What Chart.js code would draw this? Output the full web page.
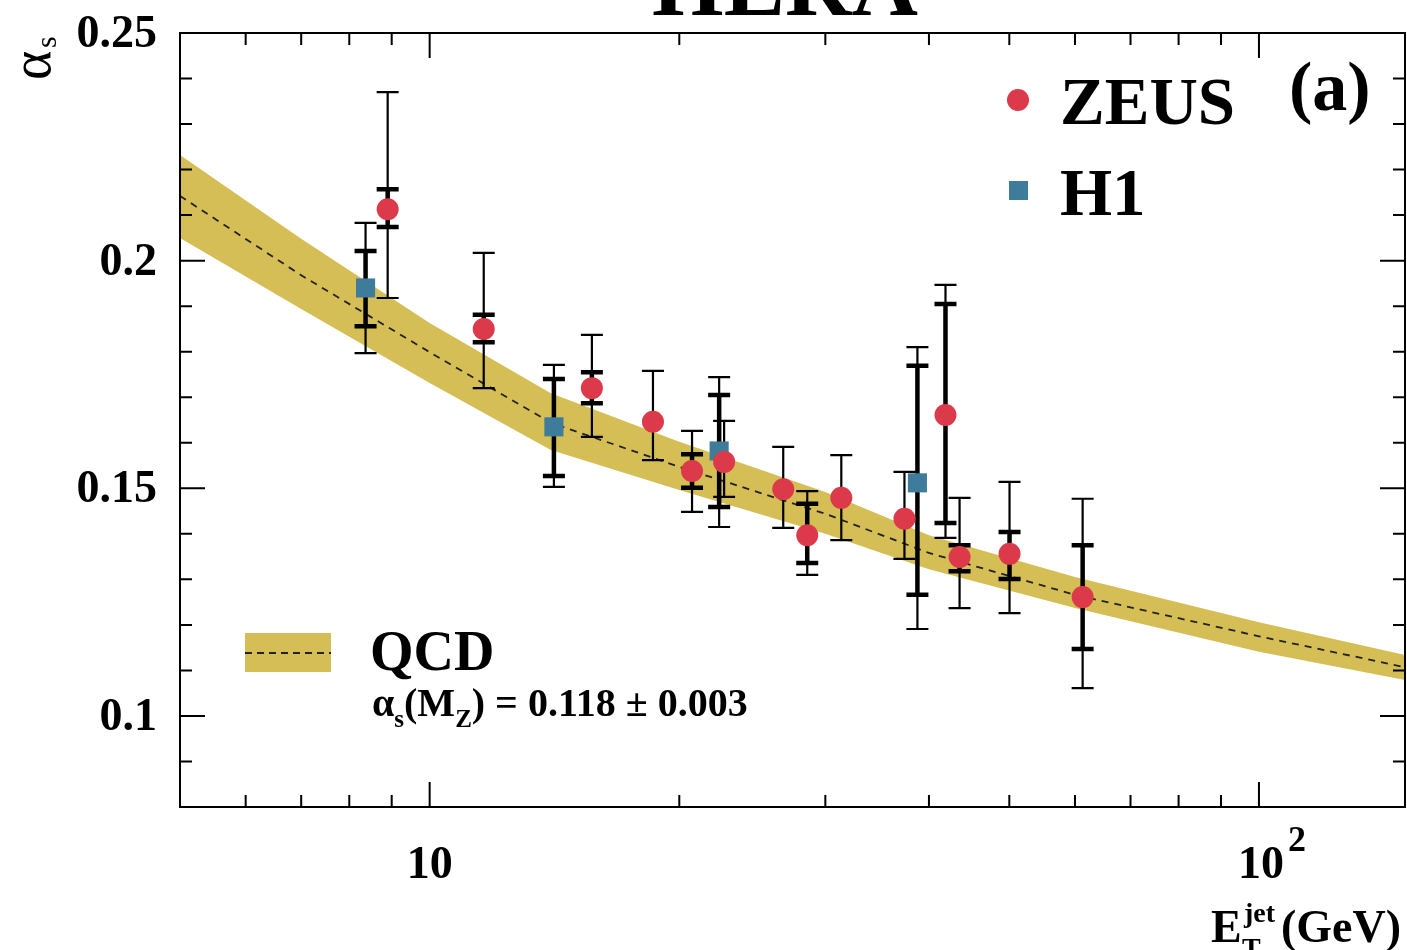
<!DOCTYPE html>
<html>
<head>
<meta charset="utf-8">
<script src="https://cdn.jsdelivr.net/npm/chart.js@4.4.0/dist/chart.umd.min.js"></script>
<style>
  html, body { margin: 0; padding: 0; background: #fff; overflow: hidden; }
  canvas { display: block; }
</style>
</head>
<body>
<canvas id="alphaChart" width="1407" height="950"></canvas>
<script>
const qcdEt      = [5, 7, 10, 14, 20, 30, 40, 60, 100, 150];
const qcdCentral = [0.2142, 0.1968, 0.1799, 0.1644, 0.1547, 0.1444, 0.1358, 0.1266, 0.1175, 0.1107];
const qcdUpper   = [0.2232, 0.2048, 0.1863, 0.1709, 0.1602, 0.1492, 0.1397, 0.1305, 0.1206, 0.1134];
const qcdLower   = [0.2050, 0.1894, 0.1731, 0.1584, 0.1496, 0.1400, 0.1322, 0.1237, 0.1141, 0.1079];

const zeusEt     = [8.90, 11.62, 15.69, 18.59, 20.72, 22.65, 26.69, 28.53, 31.36, 37.37, 41.88, 43.55, 50.03, 61.29];
const zeusAlpha  = [0.2113, 0.1850, 0.1720, 0.1646, 0.1538, 0.1558, 0.1498, 0.1397, 0.1479, 0.1433, 0.1661, 0.1349, 0.1356, 0.1261];
const zeusStatHi = [0.2157, 0.1881, 0.1755, null, 0.1575, null, null, 0.1466, null, null, 0.1905, 0.1375, 0.1404, 0.1375];
const zeusStatLo = [0.2074, 0.1821, 0.1687, null, 0.1501, null, null, 0.1336, null, null, 0.1424, 0.1318, 0.1301, 0.1147];
const zeusTotHi  = [0.2370, 0.2017, 0.1837, 0.1758, 0.1626, 0.1648, 0.1591, 0.1494, 0.1573, 0.1536, 0.1947, 0.1479, 0.1514, 0.1477];
const zeusTotLo  = [0.1918, 0.1720, 0.1613, 0.1562, 0.1448, 0.1481, 0.1413, 0.1310, 0.1386, 0.1345, 0.1391, 0.1237, 0.1226, 0.1061];

const h1Et     = [8.37, 14.12, 22.34, 38.74];
const h1Alpha  = [0.1940, 0.1635, 0.1582, 0.1512];
const h1StatHi = [0.2021, 0.1740, 0.1705, 0.1769];
const h1StatLo = [0.1856, 0.1527, 0.1459, 0.1266];
const h1TotHi  = [0.2083, 0.1771, 0.1744, 0.1810];
const h1TotLo  = [0.1797, 0.1503, 0.1415, 0.1191];

const yTicks = [0.1, 0.15, 0.2, 0.25];
const yTickLabels = ['0.1', '0.15', '0.2', '0.25'];

const zeusColor = '#DC3A4B';
const h1Color = '#3F7C9B';
const bandColor = '#D4BE55';
const serif = '"Liberation Serif", "DejaVu Serif", serif';

const pts = (xs, ys) => xs.map((x, i) => ({ x: x, y: ys[i] }));

function drawBar(ctx, x, yHi, yLo, lw) {
  ctx.lineWidth = lw;
  ctx.beginPath();
  ctx.moveTo(x, yHi); ctx.lineTo(x, yLo);
  ctx.moveTo(x - 11, yHi); ctx.lineTo(x + 11, yHi);
  ctx.moveTo(x - 11, yLo); ctx.lineTo(x + 11, yLo);
  ctx.stroke();
}

const errorBars = {
  id: 'errorBars',
  afterDatasetDraw(chart, args) {
    if (args.index !== 2) return;
    const { ctx, scales: { x, y } } = chart;
    ctx.save();
    ctx.strokeStyle = '#000';
    const sets = [
      [h1Et, h1StatHi, h1StatLo, h1TotHi, h1TotLo],
      [zeusEt, zeusStatHi, zeusStatLo, zeusTotHi, zeusTotLo]
    ];
    sets.forEach(([et, sHi, sLo, tHi, tLo]) => {
      et.forEach((e, i) => {
        const px = x.getPixelForValue(e);
        drawBar(ctx, px, y.getPixelForValue(tHi[i]), y.getPixelForValue(tLo[i]), 2.2);
        if (sHi[i] !== null) {
          drawBar(ctx, px, y.getPixelForValue(sHi[i]), y.getPixelForValue(sLo[i]), 4.5);
        }
      });
    });
    ctx.restore();
  }
};

const frame = {
  id: 'frame',
  afterDraw(chart) {
    const { ctx, chartArea: a, scales: { x, y } } = chart;
    ctx.save();
    ctx.strokeStyle = '#000';
    ctx.fillStyle = '#000';
    ctx.lineWidth = 2;
    ctx.strokeRect(a.left, a.top, a.right - a.left, a.bottom - a.top);

    // y ticks, inward on both sides
    ctx.beginPath();
    for (let k = 8; k <= 25; k++) {
      const py = y.getPixelForValue(k / 100);
      const len = k % 5 === 0 ? 25 : 12;
      ctx.moveTo(a.left, py); ctx.lineTo(a.left + len, py);
      ctx.moveTo(a.right, py); ctx.lineTo(a.right - len, py);
    }
    // x ticks, inward top and bottom
    const xt = [6, 7, 8, 9, 10, 20, 30, 40, 50, 60, 70, 80, 90, 100];
    xt.forEach(v => {
      const px = x.getPixelForValue(v);
      const len = (v === 10 || v === 100) ? 25 : 12;
      ctx.moveTo(px, a.bottom); ctx.lineTo(px, a.bottom - len);
      ctx.moveTo(px, a.top); ctx.lineTo(px, a.top + len);
    });
    ctx.stroke();

    // y tick labels
    ctx.font = 'bold 46px ' + serif;
    ctx.textAlign = 'right';
    ctx.textBaseline = 'middle';
    yTicks.forEach((v, i) => ctx.fillText(yTickLabels[i], 157, y.getPixelForValue(v) + 2));

    // x tick labels
    ctx.textAlign = 'center';
    ctx.fillText('10', x.getPixelForValue(10), 866);
    ctx.fillText('10', x.getPixelForValue(100) + 2, 866);
    ctx.font = 'bold 36px ' + serif;
    ctx.textAlign = 'left';
    ctx.fillText('2', x.getPixelForValue(100) + 29, 842);

    // x title
    ctx.textBaseline = 'alphabetic';
    ctx.textAlign = 'left';
    ctx.font = 'bold 46px ' + serif;
    ctx.fillText('E', 1211, 942);
    ctx.font = 'bold 28px ' + serif;
    ctx.fillText('jet', 1244, 922);
    ctx.fillText('T', 1242, 957);
    ctx.font = 'bold 46px ' + serif;
    ctx.textAlign = 'right';
    ctx.fillText('(GeV)', 1401, 942);

    // y title, rotated
    ctx.save();
    ctx.translate(50, 80);
    ctx.rotate(-Math.PI / 2);
    ctx.textAlign = 'left';
    ctx.font = '56px ' + serif;
    ctx.fillText('\u03B1', 0, 0);
    ctx.font = '30px ' + serif;
    ctx.fillText('s', 32, 6);
    ctx.restore();

    // cut-off title
    ctx.font = 'bold 92px ' + serif;
    ctx.textAlign = 'center';
    ctx.fillText('HERA', 785, 15);

    // data legend
    ctx.fillStyle = zeusColor;
    ctx.beginPath();
    ctx.arc(1018, 100, 11, 0, Math.PI * 2);
    ctx.fill();
    ctx.fillStyle = h1Color;
    ctx.fillRect(1009, 181, 19, 19);
    ctx.fillStyle = '#000';
    ctx.textAlign = 'left';
    ctx.font = 'bold 67px ' + serif;
    ctx.fillText('ZEUS', 1060, 124);
    ctx.fillText('H1', 1060, 215);
    ctx.font = 'bold 70px ' + serif;
    ctx.fillText('(a)', 1289, 110);

    // QCD legend
    ctx.fillStyle = bandColor;
    ctx.fillRect(245, 633, 86, 39);
    ctx.strokeStyle = '#222';
    ctx.lineWidth = 1.8;
    ctx.setLineDash([7, 5]);
    ctx.beginPath();
    ctx.moveTo(245, 653); ctx.lineTo(331, 653);
    ctx.stroke();
    ctx.setLineDash([]);
    ctx.fillStyle = '#000';
    ctx.font = 'bold 56px ' + serif;
    ctx.fillText('QCD', 370, 670);
    ctx.font = 'bold 40px ' + serif;
    let cx = 372;
    ctx.fillText('\u03B1', cx, 716); cx += ctx.measureText('\u03B1').width;
    ctx.font = 'bold 25px ' + serif;
    ctx.fillText('s', cx, 727); cx += ctx.measureText('s').width;
    ctx.font = 'bold 40px ' + serif;
    ctx.fillText('(M', cx, 716); cx += ctx.measureText('(M').width;
    ctx.font = 'bold 25px ' + serif;
    ctx.fillText('Z', cx, 727); cx += ctx.measureText('Z').width;
    ctx.font = 'bold 40px ' + serif;
    ctx.fillText(') = 0.118 \u00B1 0.003', cx, 716);
    ctx.restore();
  }
};

new Chart(document.getElementById('alphaChart').getContext('2d'), {
  type: 'scatter',
  data: {
    datasets: [
      {
        label: 'ZEUS',
        data: pts(zeusEt, zeusAlpha),
        pointStyle: 'circle',
        pointRadius: 11,
        pointBackgroundColor: zeusColor,
        pointBorderWidth: 0
      },
      {
        label: 'H1',
        data: pts(h1Et, h1Alpha),
        pointStyle: 'rect',
        pointRadius: 13.5,
        pointBackgroundColor: h1Color,
        pointBorderWidth: 0
      },
      {
        label: 'QCD',
        data: pts(qcdEt, qcdCentral),
        showLine: true,
        borderColor: '#222',
        borderWidth: 1.8,
        borderDash: [7, 6],
        pointRadius: 0,
        fill: false
      },
      {
        label: 'QCD upper',
        data: pts(qcdEt, qcdUpper),
        showLine: true,
        borderWidth: 0,
        borderColor: bandColor,
        backgroundColor: bandColor,
        pointRadius: 0,
        fill: '+1'
      },
      {
        label: 'QCD lower',
        data: pts(qcdEt, qcdLower),
        showLine: true,
        borderWidth: 0,
        borderColor: bandColor,
        pointRadius: 0,
        fill: false
      }
    ]
  },
  options: {
    responsive: false,
    animation: false,
    layout: { autoPadding: false, padding: { left: 180, right: 2, top: 33, bottom: 143 } },
    plugins: {
      legend: { display: false },
      tooltip: { enabled: false }
    },
    scales: {
      x: { type: 'logarithmic', min: 5, max: 150, display: false },
      y: { type: 'linear', min: 0.08, max: 0.25, display: false }
    }
  },
  plugins: [errorBars, frame]
});
</script>
</body>
</html>
